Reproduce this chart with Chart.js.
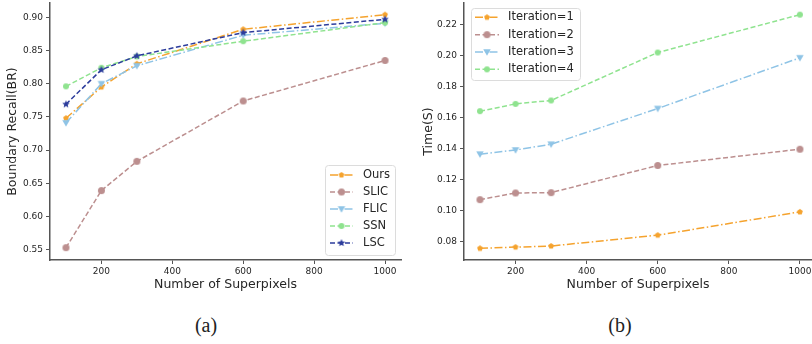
<!DOCTYPE html>
<html><head><meta charset="utf-8">
<script src="https://cdn.jsdelivr.net/npm/chart.js@4/dist/chart.umd.min.js"></script>
<style>
html,body{margin:0;padding:0;background:#fff;width:812px;height:344px;overflow:hidden;}
#c1{position:absolute;left:0;top:0;}
#c2{position:absolute;left:410px;top:0;}
.cap{position:absolute;top:313px;font-family:"Liberation Serif",serif;font-size:20px;color:#222;transform:translateX(-50%);line-height:24px;}
</style></head><body>
<canvas id="c1" width="410" height="300"></canvas>
<canvas id="c2" width="402" height="300"></canvas>
<div class="cap" style="left:206px">(a)</div>
<div class="cap" style="left:620px">(b)</div>
<script>
// ---- data ----
const superpixels = [100, 200, 300, 600, 1000];
const oursBR = [0.748, 0.795, 0.830, 0.882, 0.904];
const slicBR = [0.553, 0.639, 0.683, 0.774, 0.835];
const flicBR = [0.741, 0.800, 0.827, 0.873, 0.891];
const ssnBR  = [0.796, 0.824, 0.841, 0.864, 0.892];
const lscBR  = [0.769, 0.821, 0.842, 0.877, 0.897];
const iter1Time = [0.0758, 0.0766, 0.0773, 0.0843, 0.0993];
const iter2Time = [0.1072, 0.1115, 0.1117, 0.1292, 0.1397];
const iter3Time = [0.1365, 0.1392, 0.1429, 0.1659, 0.1986];
const iter4Time = [0.1642, 0.1689, 0.1711, 0.2020, 0.2264];
const xTicks = [200, 400, 600, 800, 1000];
const brTicks = [0.55, 0.60, 0.65, 0.70, 0.75, 0.80, 0.85, 0.90];
const timeTicks = [0.08, 0.10, 0.12, 0.14, 0.16, 0.18, 0.20, 0.22];
const leftLabels = ['Ours', 'SLIC', 'FLIC', 'SSN', 'LSC'];
const rightLabels = ['Iteration=1', 'Iteration=2', 'Iteration=3', 'Iteration=4'];

// ---- styles ----
const ORANGE = '#f5a32e', BROWN = '#bc8f8f', LBLUE = '#8fc4e6', LGREEN = '#8fe38f', DBLUE = '#2c3c9c';
const DASH = [5, 2.5], DASHDOT = [8, 2.5, 1.5, 2.5];
const AXIS = '#555555', TXT = '#262626';

function marker(shape, color, size) {
  const s = Math.ceil(size) + 2;
  const c = document.createElement('canvas'); c.width = s; c.height = s;
  const g = c.getContext('2d'); g.fillStyle = color; g.translate(s / 2, s / 2);
  const r = size / 2;
  g.beginPath();
  if (shape === 'circle') g.arc(0, 0, r, 0, Math.PI * 2);
  else if (shape === 'pentagon') { for (let i = 0; i < 5; i++) { const a = -Math.PI / 2 + i * 2 * Math.PI / 5; g.lineTo(r * Math.cos(a), r * Math.sin(a)); } g.closePath(); }
  else if (shape === 'tridown') { g.moveTo(-r, -r * 0.75); g.lineTo(r, -r * 0.75); g.lineTo(0, r); g.closePath(); }
  else if (shape === 'star') { for (let i = 0; i < 10; i++) { const a = -Math.PI / 2 + i * Math.PI / 5; const rr = i % 2 ? r * 0.45 : r; g.lineTo(rr * Math.cos(a), rr * Math.sin(a)); } g.closePath(); }
  g.fill();
  return c;
}

function ds(label, values, color, dash, shape, size, order) {
  return {
    label, data: superpixels.map((x, i) => ({ x, y: values[i] })),
    borderColor: color, backgroundColor: color, borderWidth: 1.5, borderDash: dash,
    pointStyle: marker(shape, color, size), pointRadius: size / 2, pointHoverRadius: size / 2,
    tension: 0, fill: false, order, clip: 8
  };
}

function legendPlugin(cfg) {
  return {
    id: 'customLegend',
    afterDraw(chart) {
      const ctx = chart.ctx; ctx.save();
      const b = cfg.box;
      ctx.fillStyle = 'rgba(255,255,255,0.85)'; ctx.strokeStyle = '#dcdcdc'; ctx.lineWidth = 1;
      ctx.beginPath(); ctx.roundRect(b[0] + 0.5, b[1] + 0.5, b[2] - b[0], b[3] - b[1], 3); ctx.fill(); ctx.stroke();
      chart.data.datasets.forEach((d, i) => {
        const y = cfg.y0 + i * cfg.dy;
        ctx.strokeStyle = d.borderColor; ctx.lineWidth = 1.5; ctx.setLineDash(d.borderDash);
        ctx.beginPath(); ctx.moveTo(cfg.x0, y); ctx.lineTo(cfg.x1, y); ctx.stroke(); ctx.setLineDash([]);
        const img = d.pointStyle; ctx.drawImage(img, (cfg.x0 + cfg.x1) / 2 - img.width / 2, y - img.height / 2);
        ctx.fillStyle = TXT; ctx.font = '11.5px "DejaVu Sans"'; ctx.textBaseline = 'middle'; ctx.textAlign = 'left';
        ctx.fillText(d.label, cfg.tx, y);
      });
      ctx.restore();
    }
  };
}

function scales(xMax, yMin, yMax, yTicks, yTitle, yW, yTitlePad) {
  const tickFont = { family: 'DejaVu Sans', size: 9 };
  const titleFont = { family: 'DejaVu Sans', size: 12.5 };
  return {
    x: {
      type: 'linear', min: 55, max: xMax,
      afterBuildTicks: s => { s.ticks = xTicks.map(v => ({ value: v })); },
      afterFit: s => { s.height = 40; s.paddingLeft = 0; s.paddingRight = 0; },
      grid: { display: true, drawOnChartArea: false, drawTicks: true, tickLength: 4, tickColor: AXIS, tickWidth: 1 },
      border: { display: true, color: AXIS, width: 1.5 },
      ticks: { font: tickFont, color: TXT, padding: 2, maxRotation: 0, autoSkip: false, callback: v => String(v) },
      title: { display: true, text: 'Number of Superpixels', font: titleFont, color: TXT, padding: { top: 0, bottom: 7.5 } }
    },
    y: {
      type: 'linear', min: yMin, max: yMax,
      afterBuildTicks: s => { s.ticks = yTicks.map(v => ({ value: v })); },
      afterFit: s => { s.width = yW; s.paddingTop = 0; s.paddingBottom = 0; },
      grid: { display: true, drawOnChartArea: false, drawTicks: true, tickLength: 4, tickColor: AXIS, tickWidth: 1 },
      border: { display: true, color: AXIS, width: 1.5 },
      ticks: { font: tickFont, color: TXT, padding: 3, autoSkip: false, callback: v => v.toFixed(2) },
      title: { display: true, text: yTitle, font: titleFont, color: TXT, padding: { top: yTitlePad, bottom: 0 } }
    }
  };
}

Chart.defaults.font.family = 'DejaVu Sans';

new Chart(document.getElementById('c1'), {
  type: 'line',
  data: {
    datasets: [
      ds(leftLabels[0], oursBR, ORANGE, DASHDOT, 'pentagon', 6, 5),
      ds(leftLabels[1], slicBR, BROWN, DASH, 'circle', 7, 4),
      ds(leftLabels[2], flicBR, LBLUE, DASHDOT, 'tridown', 7.5, 3),
      ds(leftLabels[3], ssnBR, LGREEN, DASH, 'circle', 6, 2),
      ds(leftLabels[4], lscBR, DBLUE, DASH, 'star', 8, 1)
    ]
  },
  options: {
    responsive: false, animation: false, devicePixelRatio: 1,
    layout: { autoPadding: false, padding: { top: 3, right: 9, left: 0, bottom: 0 } },
    plugins: { legend: { display: false }, tooltip: { enabled: false } },
    scales: scales(1045, 0.5344, 0.9216, brTicks, 'Boundary Recall(BR)', 50, 5.5)
  },
  plugins: [legendPlugin({ box: [325, 165, 395, 255], x0: 330, x1: 353, tx: 363, y0: 175, dy: 17 })]
});

new Chart(document.getElementById('c2'), {
  type: 'line',
  data: {
    datasets: [
      ds(rightLabels[0], iter1Time, ORANGE, DASHDOT, 'pentagon', 6, 4),
      ds(rightLabels[1], iter2Time, BROWN, DASH, 'circle', 7, 3),
      ds(rightLabels[2], iter3Time, LBLUE, DASHDOT, 'tridown', 7.5, 2),
      ds(rightLabels[3], iter4Time, LGREEN, DASH, 'circle', 6, 1)
    ]
  },
  options: {
    responsive: false, animation: false, devicePixelRatio: 1,
    layout: { autoPadding: false, padding: { top: 3, right: 0, left: 0, bottom: 0 } },
    plugins: { legend: { display: false }, tooltip: { enabled: false } },
    scales: scales(1034, 0.0683, 0.2339, timeTicks, 'Time(S)', 54, 11.5)
  },
  plugins: [legendPlugin({ box: [61, 8, 170, 80], x0: 65, x1: 89, tx: 98, y0: 17.3, dy: 17.35 })]
});
</script>
</body></html>
